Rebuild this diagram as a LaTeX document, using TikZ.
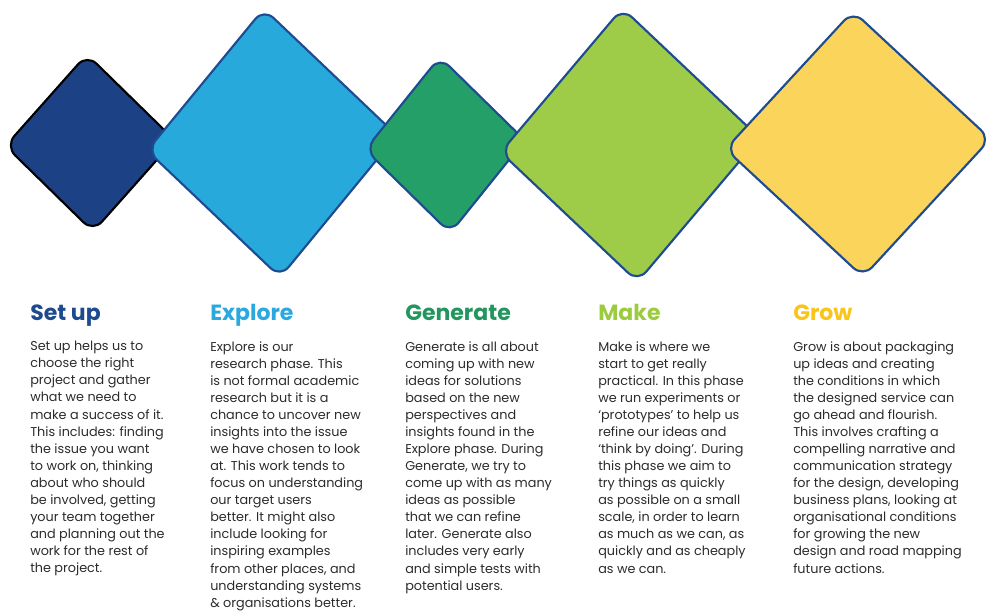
\documentclass[tikz,border=0pt]{standalone}
\usepackage{fontspec}
\setmainfont{Poppins}
\usetikzlibrary{shapes.geometric}
\usetikzlibrary{positioning}

\definecolor{setupfill}{HTML}{1C4285}
\definecolor{explorefill}{HTML}{27A9DC}
\definecolor{generatefill}{HTML}{259F68}
\definecolor{makefill}{HTML}{9ECC48}
\definecolor{growfill}{HTML}{FBD55B}
\definecolor{edgeblue}{HTML}{1F4B91}
\definecolor{setuptext}{HTML}{1E4B8F}
\definecolor{exploretext}{HTML}{2BA8DF}
\definecolor{generatetext}{HTML}{23965E}
\definecolor{maketext}{HTML}{9CCB3F}
\definecolor{growtext}{HTML}{F9C51B}
\definecolor{bodytext}{HTML}{2B2B2B}

\begin{document}
\begin{tikzpicture}[x=0.75pt,y=-0.75pt,
  phase/.style={diamond,draw=edgeblue,line width=1.6pt,rounded corners=10pt,inner sep=0pt},
  heading/.style={font=\fontsize{16.5}{20}\selectfont\bfseries,anchor=base west,inner sep=0pt},
  body/.style={font=\fontsize{9.6}{12.81}\selectfont,text=bodytext,align=left,anchor=north west,inner sep=0pt}]
\useasboundingbox (0,0) rectangle (987,610);

\node[phase,draw=black,fill=setupfill,minimum width=127.5pt,minimum height=133.75pt,rotate=2] (setup) at (90,143) {};
\node[phase,fill=explorefill,minimum width=188.25pt,minimum height=202.5pt,rotate=3.5] (explore) at (272,143) {};
\node[phase,fill=generatefill,minimum width=120.5pt,minimum height=133pt,rotate=3.4] (generate) at (445,145) {};
\node[phase,fill=makefill,minimum width=195pt,minimum height=206.25pt,rotate=3.2] (make) at (630,145) {};
\node[phase,fill=growfill,minimum width=199.5pt,minimum height=200.25pt,rotate=2.2] (grow) at (858,144) {};

\node[heading,text=setuptext] (hsetup) at (30,320) {Set up};
\node[heading,text=exploretext] (hexplore) at (210,320) {Explore};
\node[heading,text=generatetext] (hgenerate) at (405,320) {Generate};
\node[heading,text=maketext] (hmake) at (598,320) {Make};
\node[heading,text=growtext] (hgrow) at (793,320) {Grow};

\node[body] (tsetup) at (30,341) {Set up helps us to\\choose the right\\project and gather\\what we need to\\make a success of it.\\This includes: finding\\the issue you want\\to work on, thinking\\about who should\\be involved, getting\\your team together\\and planning out the\\work for the rest of\\the project.};
\node[body] (texplore) at (210,341) {Explore is our\\research phase. This\\is not formal academic\\research but it is a\\chance to uncover new\\insights into the issue\\we have chosen to look\\at. This work tends to\\focus on understanding\\our target users\\better. It might also\\include looking for\\inspiring examples\\from other places, and\\understanding systems\\\& organisations better.};
\node[body] (tgenerate) at (405,341) {Generate is all about\\coming up with new\\ideas for solutions\\based on the new\\perspectives and\\insights found in the\\Explore phase. During\\Generate, we try to\\come up with as many\\ideas as possible\\that we can refine\\later. Generate also\\includes very early\\and simple tests with\\potential users.};
\node[body] (tmake) at (598,341) {Make is where we\\start to get really\\practical. In this phase\\we run experiments or\\‘prototypes’ to help us\\refine our ideas and\\‘think by doing’. During\\this phase we aim to\\try things as quickly\\as possible on a small\\scale, in order to learn\\as much as we can, as\\quickly and as cheaply\\as we can.};
\node[body] (tgrow) at (793,341) {Grow is about packaging\\up ideas and creating\\the conditions in which\\the designed service can\\go ahead and flourish.\\This involves crafting a\\compelling narrative and\\communication strategy\\for the design, developing\\business plans, looking at\\organisational conditions\\for growing the new\\design and road mapping\\future actions.};

\end{tikzpicture}
\end{document}
